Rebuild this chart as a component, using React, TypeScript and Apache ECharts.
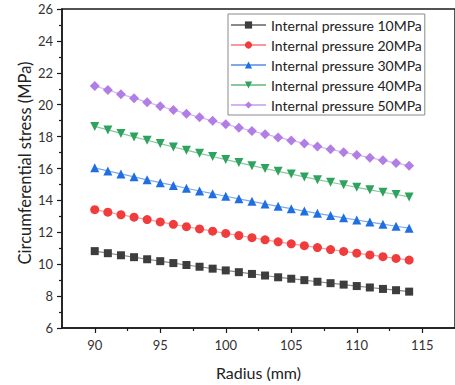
import React, { useEffect, useRef } from "react";
import * as echarts from "echarts";

const radius = [90, 91, 92, 93, 94, 95, 96, 97, 98, 99, 100, 101, 102, 103, 104, 105, 106, 107, 108, 109, 110, 111, 112, 113, 114];

const p10 = [10.82, 10.69, 10.56, 10.44, 10.31, 10.19, 10.07, 9.95, 9.84, 9.72, 9.61, 9.5, 9.39, 9.29, 9.18, 9.09, 9.0, 8.9, 8.81, 8.72, 8.63, 8.54, 8.45, 8.37, 8.28];
const p20 = [13.42, 13.26, 13.1, 12.95, 12.8, 12.65, 12.5, 12.35, 12.21, 12.07, 11.93, 11.8, 11.66, 11.53, 11.4, 11.28, 11.16, 11.04, 10.92, 10.8, 10.69, 10.58, 10.47, 10.36, 10.26];
const p30 = [16.04, 15.85, 15.66, 15.48, 15.29, 15.11, 14.94, 14.76, 14.59, 14.42, 14.26, 14.1, 13.94, 13.78, 13.63, 13.48, 13.33, 13.19, 13.05, 12.91, 12.77, 12.64, 12.51, 12.38, 12.26];
const p40 = [18.64, 18.42, 18.2, 17.98, 17.77, 17.56, 17.35, 17.15, 16.95, 16.75, 16.56, 16.37, 16.18, 16.0, 15.82, 15.65, 15.47, 15.3, 15.14, 14.98, 14.82, 14.66, 14.51, 14.37, 14.22];
const p50 = [21.18, 20.92, 20.66, 20.41, 20.16, 19.91, 19.67, 19.44, 19.21, 18.99, 18.77, 18.56, 18.35, 18.15, 17.95, 17.76, 17.57, 17.38, 17.2, 17.02, 16.85, 16.68, 16.51, 16.34, 16.18];

const seriesNames = [
  "Internal pressure 10MPa",
  "Internal pressure 20MPa",
  "Internal pressure 30MPa",
  "Internal pressure 40MPa",
  "Internal pressure 50MPa",
];

const xTickValues = [90, 95, 100, 105, 110, 115];
const xMinorTickValues = [92.5, 97.5, 102.5, 107.5, 112.5];

const xAxisTitle = "Radius (mm)";
const yAxisTitle = "Circumferential stress (MPa)";

const FONT = "Lato, 'Open Sans', sans-serif";

export default function App() {
  const ref = useRef<HTMLDivElement>(null);

  useEffect(() => {
    const chart = echarts.init(ref.current!, null, { renderer: "svg" });
    const dataSets = [p10, p20, p30, p40, p50];
    const styles = [
      { color: "#3d3d3d", line: "#8a8a8a", symbol: "rect", size: 8, rotate: 0 },
      { color: "#f03c3c", line: "#f59a9a", symbol: "circle", size: 9, rotate: 0 },
      { color: "#1f6fe0", line: "#7fa9ea", symbol: "triangle", size: 9, rotate: 0 },
      { color: "#2ea35e", line: "#86c99f", symbol: "triangle", size: 9, rotate: 180 },
      { color: "#b17ee6", line: "#d2b5f0", symbol: "diamond", size: 10, rotate: 0 },
    ];
    chart.setOption({
      animation: false,
      grid: {
        left: 62,
        top: 9,
        right: -8,
        bottom: 52,
        show: true,
        borderColor: "#1a1a1a",
        borderWidth: 1.5,
      },
      legend: {
        orient: "vertical",
        left: 228,
        top: 14,
        data: seriesNames,
        itemWidth: 35,
        itemHeight: 9,
        itemGap: 6,
        borderColor: "#8a8a8a",
        borderWidth: 1,
        padding: [4, 3, 3, 2],
        textStyle: { fontFamily: FONT, fontSize: 14, color: "#222" },
      },
      graphic: [
        {
          type: "text",
          x: 25,
          y: 163,
          rotation: Math.PI / 2,
          style: {
            text: yAxisTitle,
            fontFamily: FONT,
            fontSize: 16.5,
            fill: "#222",
            align: "center",
            verticalAlign: "middle",
          },
        },
      ],
      xAxis: [
        {
          type: "value",
          min: 87.5,
          max: 117.5,
          name: xAxisTitle,
          nameLocation: "middle",
          nameGap: 36,
          nameTextStyle: { fontFamily: FONT, fontSize: 16, color: "#222" },
          axisLine: { show: true, lineStyle: { color: "#1a1a1a", width: 1.5 } },
          axisTick: { show: true, inside: false, length: 5, customValues: xTickValues, lineStyle: { color: "#1a1a1a", width: 1.2 } },
          axisLabel: { customValues: xTickValues, margin: 10, fontFamily: FONT, fontSize: 13, color: "#333" },
          splitLine: { show: false },
        },
        {
          type: "value",
          min: 87.5,
          max: 117.5,
          position: "bottom",
          axisLine: { show: false },
          axisTick: { show: true, inside: false, length: 3, customValues: xMinorTickValues, lineStyle: { color: "#1a1a1a", width: 1.2 } },
          axisLabel: { show: false },
          splitLine: { show: false },
        },
      ],
      yAxis: {
        type: "value",
        min: 6,
        max: 26,
        interval: 2,
        axisLine: { show: true, lineStyle: { color: "#1a1a1a", width: 1.5 } },
        axisTick: { show: true, inside: false, length: 5, lineStyle: { color: "#1a1a1a", width: 1.2 } },
        minorTick: { show: true, splitNumber: 2, length: 3, lineStyle: { color: "#1a1a1a", width: 1.2 } },
        axisLabel: { margin: 9, fontFamily: FONT, fontSize: 13, color: "#333" },
        splitLine: { show: false },
      },
      series: dataSets.map((d, i) => ({
        type: "line",
        name: seriesNames[i],
        xAxisIndex: 0,
        data: radius.map((r, j) => [r, d[j]]),
        symbol: styles[i].symbol,
        symbolSize: styles[i].size,
        symbolRotate: styles[i].rotate,
        showAllSymbol: true,
        itemStyle: { color: styles[i].color },
        lineStyle: { color: styles[i].line, width: 1.2 },
      })),
    });
    return () => chart.dispose();
  }, []);

  return <div ref={ref} style={{ position: "absolute", left: 0, top: 0, width: 455, height: 385 }} />;
}
